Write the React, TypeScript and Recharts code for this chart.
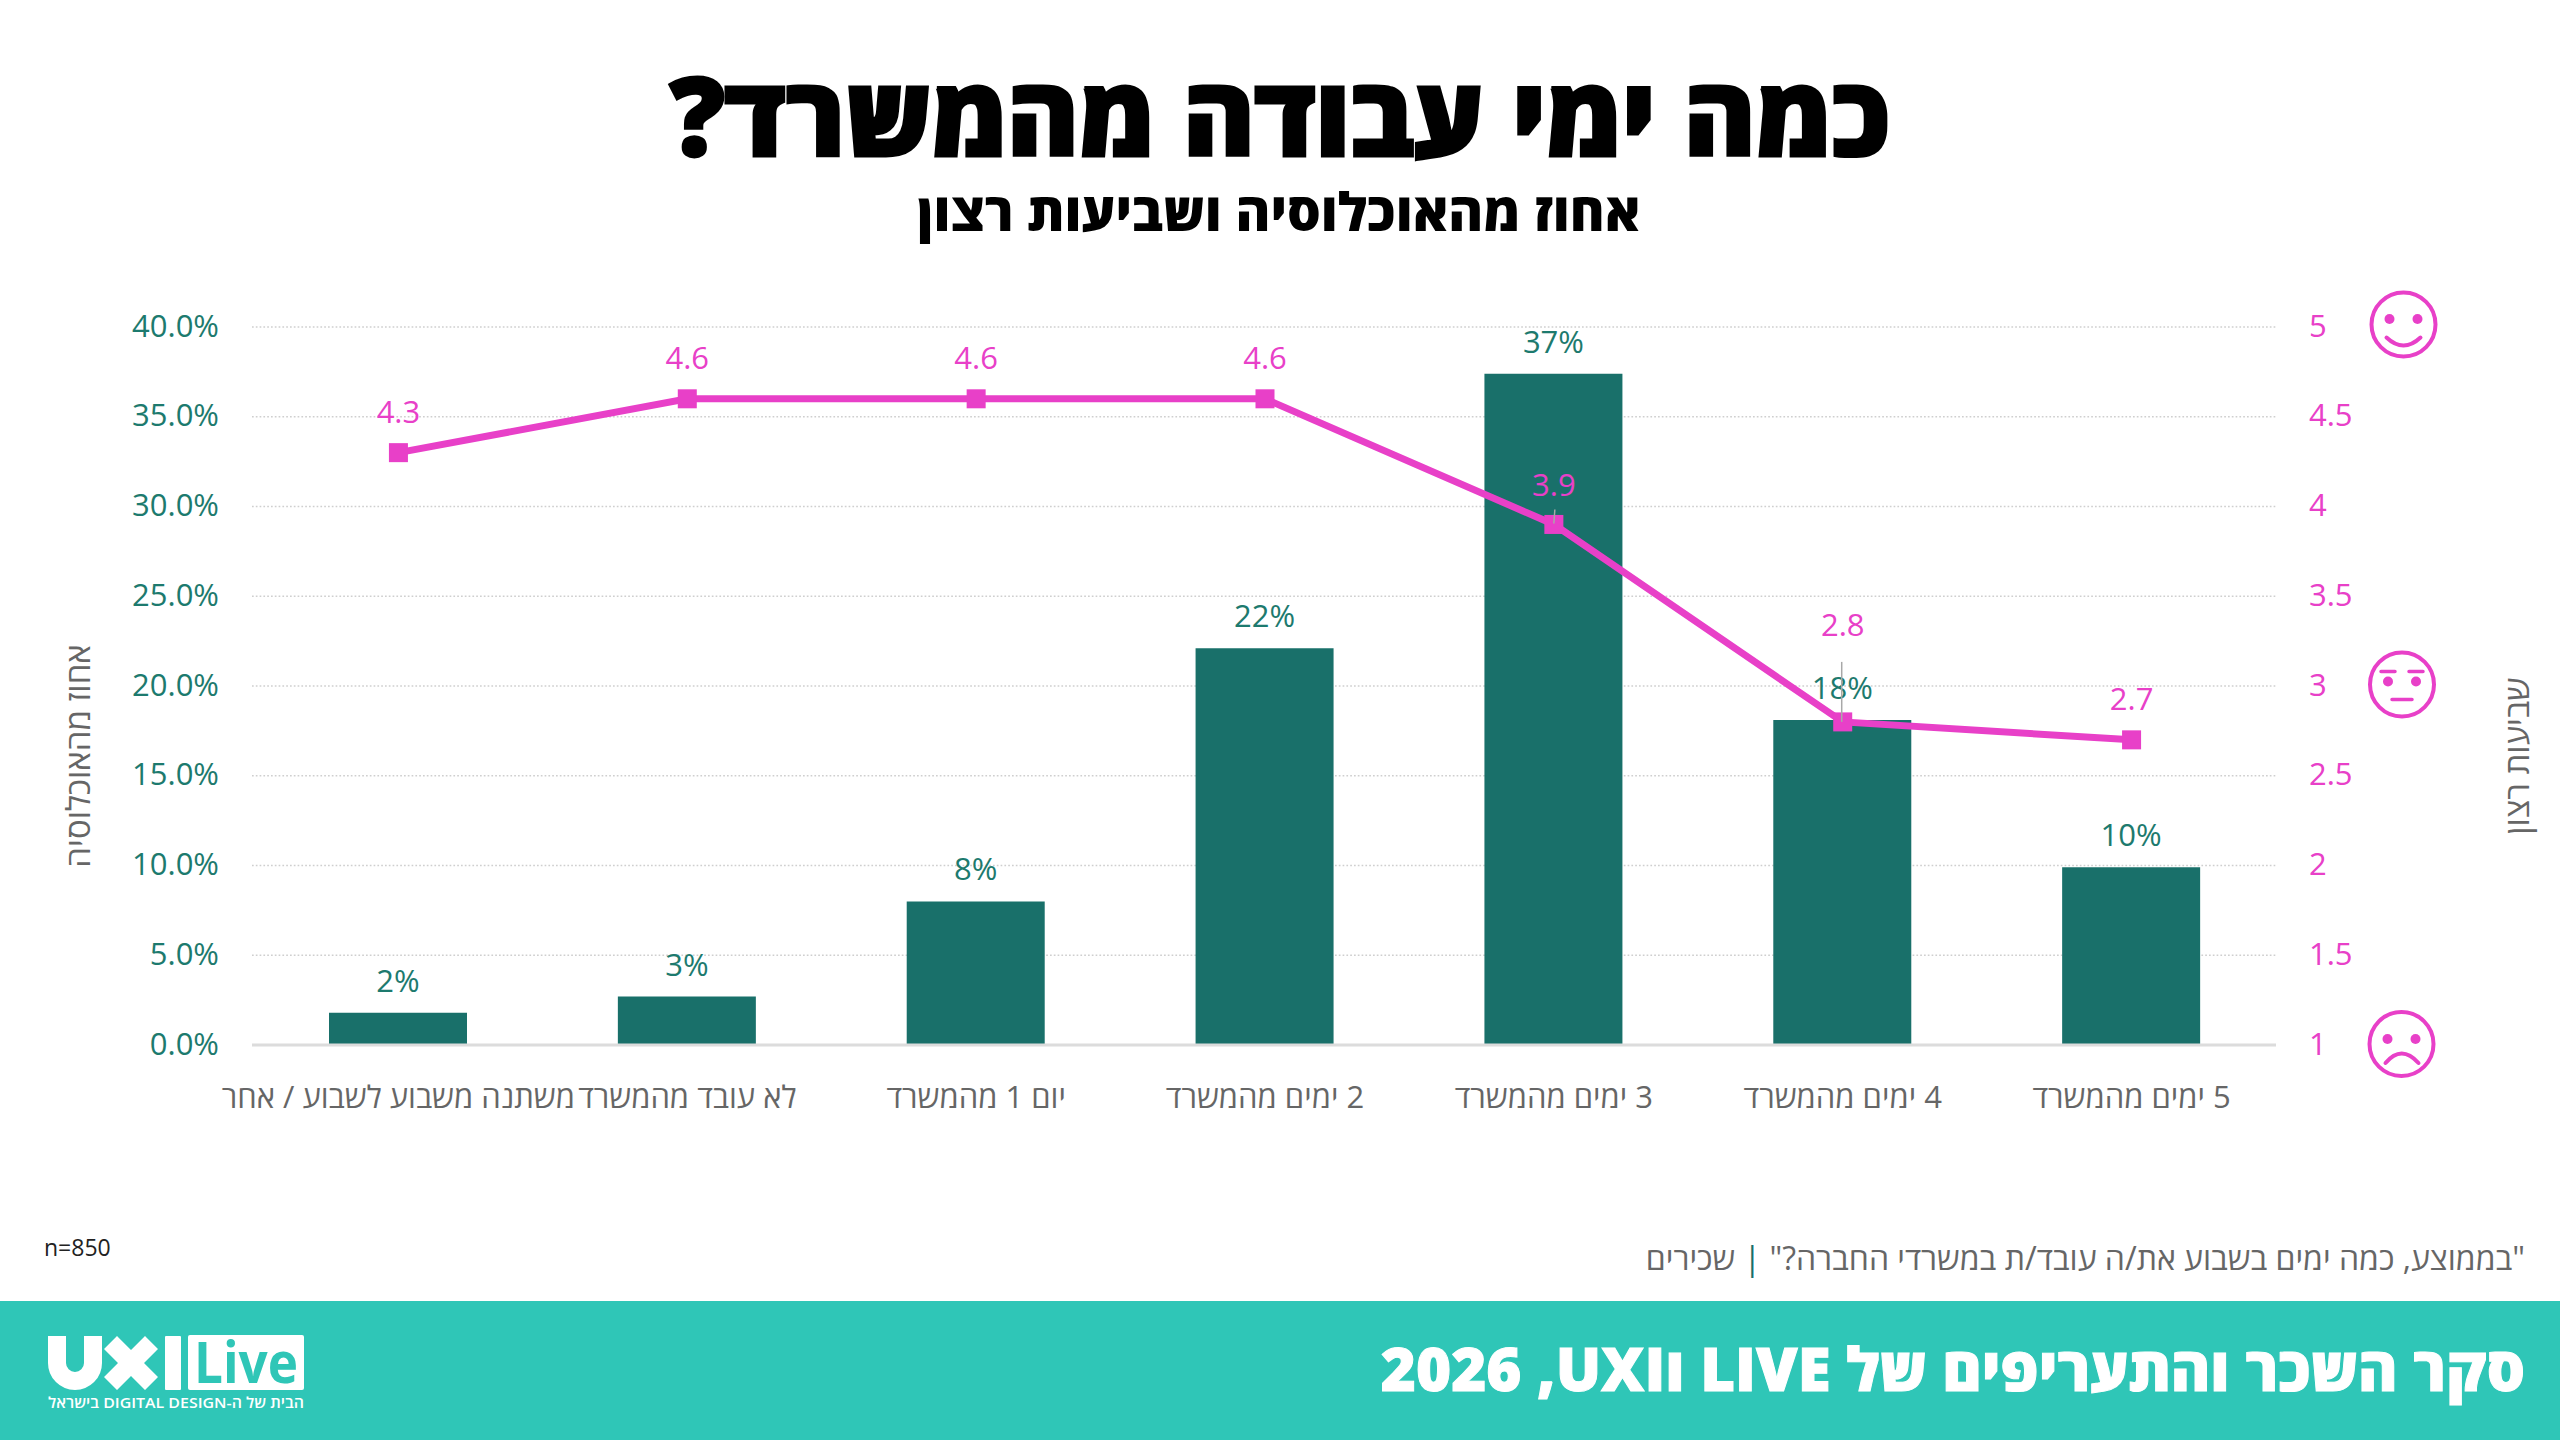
import { Bar, CartesianGrid, ComposedChart, LabelList, Line, Text, XAxis, YAxis } from "recharts";

const categories = [
  "משתנה משבוע לשבוע / אחר",
  "לא עובד מהמשרד",
  "יום 1 מהמשרד",
  "2 ימים מהמשרד",
  "3 ימים מהמשרד",
  "4 ימים מהמשרד",
  "5 ימים מהמשרד",
];
const populationShare = [1.8, 2.7, 8.0, 22.1, 37.4, 18.1, 9.9];
const satisfaction = [4.3, 4.6, 4.6, 4.6, 3.9, 2.8, 2.7];
const shareTicks = [0, 5, 10, 15, 20, 25, 30, 35, 40];
const satisfactionTicks = [1, 1.5, 2, 2.5, 3, 3.5, 4, 4.5, 5];

const chartData = categories.map((category, i) => ({
  category,
  share: populationShare[i],
  satisfaction: satisfaction[i],
}));

const TEAL = "#19706a";
const TEAL_TEXT = "#1d7a6e";
const PINK = "#e840c8";
const GREY = "#666666";
const BAND = "#2fc6b7";
const FONT = "'Open Sans', sans-serif";
const TITLE_FONT = "'Open Sans', 'Liberation Sans', sans-serif";

function CategoryTick({ x, y, payload }: any) {
  return (
    <Text
      x={x}
      y={y + 33}
      width={285}
      textAnchor="middle"
      verticalAnchor="start"
      lineHeight={46}
      fill={GREY}
      style={{ direction: "rtl", fontSize: 31, fontFamily: FONT }}
    >
      {payload.value}
    </Text>
  );
}

function SquareDot({ cx, cy, index }: any) {
  return <rect key={index} x={cx - 9.5} y={cy - 9.5} width={19} height={19} fill={PINK} />;
}

function SatisfactionLabel({ x, y, value, index }: any) {
  const long = index === 5;
  const short = index === 4;
  const lift = long ? 97 : short ? 39 : 41;
  return (
    <g>
      {long && <line x1={x - 1} x2={x - 1} y1={y - 60} y2={y} stroke="#a8a8a8" strokeWidth={1.5} />}
      {short && <line x1={x + 1} x2={x} y1={y - 15} y2={y - 1} stroke="#a8a8a8" strokeWidth={1.5} />}
      <text
        x={x}
        y={y - lift + 11}
        textAnchor="middle"
        fontSize={31}
        fontFamily={FONT}
        fill={PINK}
      >
        {value}
      </text>
    </g>
  );
}

function AxisTitle({ x, text }: { x: number; text: string }) {
  return (
    <text
      transform={`translate(${x} 756) rotate(-90)`}
      textAnchor="middle"
      dominantBaseline="central"
      fontSize={33}
      fontFamily={FONT}
      fill={GREY}
    >
      {text}
    </text>
  );
}

function Faces() {
  const face = { fill: "none", stroke: PINK, strokeWidth: 4, strokeLinecap: "round" as const };
  return (
    <g>
      <g transform="translate(2403.5 324.5)">
        <circle r={32} {...face} />
        <circle cx={-14} cy={-5.5} r={5} fill={PINK} />
        <circle cx={14} cy={-5.5} r={5} fill={PINK} />
        <path d="M-17 13 Q0 29 17 13" {...face} />
      </g>
      <g transform="translate(2402 684.5)">
        <circle r={32} {...face} />
        <circle cx={-14} cy={-3} r={5} fill={PINK} />
        <circle cx={14} cy={-3} r={5} fill={PINK} />
        <path d="M-21 -13 H-7 M7 -13 H21 M-10 15 H10" {...face} strokeWidth={3.5} />
      </g>
      <g transform="translate(2401.5 1044)">
        <circle r={32} {...face} />
        <circle cx={-14} cy={-5} r={5} fill={PINK} />
        <circle cx={14} cy={-5} r={5} fill={PINK} />
        <path d="M-16 19 Q0 0 17 19" {...face} />
      </g>
    </g>
  );
}

function Logo() {
  return (
    <g fill="#ffffff">
      <path d="M57 1336 V1363 A18 18 0 0 0 93 1363 V1336" fill="none" stroke="#ffffff" strokeWidth={18} />
      <path d="M104 1349 L117 1336 L131 1350 L145 1336 L158 1349 L144 1363 L158 1377 L145 1390 L131 1376 L117 1390 L104 1377 L118 1363 Z" />
      <rect x={165} y={1336} width={16} height={54} rx={1} />
      <rect x={188} y={1335} width={116} height={55} rx={2} />
      <text x={246} y={1383} textAnchor="middle" fontSize={58} fontWeight={700} fontFamily={FONT} fill={BAND} textLength={104} lengthAdjust="spacingAndGlyphs">
        Live
      </text>
      <text x={304} y={1408} textAnchor="start" fontSize={15} fontWeight={600} fontFamily={FONT} direction="rtl" textLength={256} lengthAdjust="spacingAndGlyphs">
        הבית של ה-DIGITAL DESIGN בישראל
      </text>
    </g>
  );
}

const abs = (style: React.CSSProperties): React.CSSProperties => ({
  position: "absolute",
  whiteSpace: "nowrap",
  margin: 0,
  ...style,
});

export default function App() {
  return (
    <div style={{ position: "absolute", left: 0, top: 0, width: 2560, height: 1440, background: "#fff", overflow: "hidden", fontFamily: FONT }}>
      <div dir="rtl" style={abs({ left: 0, width: 2560, top: 49, textAlign: "center", fontFamily: TITLE_FONT, fontSize: 109, fontWeight: 800, lineHeight: "130px", color: "#000", WebkitTextStroke: "3px #000" })}>
        כמה ימי עבודה מהמשרד?
      </div>
      <div dir="rtl" style={abs({ left: 0, width: 2558, top: 181, textAlign: "center", fontFamily: TITLE_FONT, fontSize: 53, fontWeight: 800, lineHeight: "60px", color: "#000" })}>
        אחוז מהאוכלוסיה ושביעות רצון
      </div>

      <ComposedChart
        width={2560}
        height={1440}
        data={chartData}
        margin={{ top: 327, right: 0, bottom: 295, left: 0 }}
        style={{ position: "absolute", left: 0, top: 0 }}
      >
        <CartesianGrid vertical={false} stroke="#cfcfcf" strokeWidth={1.7} strokeDasharray="1.7 2.1" yAxisId="share" />
        <XAxis
          dataKey="category"
          height={100}
          interval={0}
          padding={{ left: 2, right: 0 }}
          tickLine={false}
          axisLine={{ stroke: "#dcdcdc", strokeWidth: 3 }}
          tick={CategoryTick}
        />
        <YAxis
          yAxisId="share"
          orientation="left"
          width={252}
          domain={[0, 40]}
          ticks={shareTicks}
          tickFormatter={(v: number) => `${v.toFixed(1)}%`}
          axisLine={false}
          tickLine={false}
          tickMargin={33}
          tickSize={0}
          tick={{ fontSize: 31, fontFamily: FONT, fill: TEAL_TEXT, dy: -1.5 }}
          label={{ content: () => <AxisTitle x={77} text="אחוז מהאוכלוסיה" /> }}
        />
        <YAxis
          yAxisId="satisfaction"
          orientation="right"
          width={284}
          domain={[1, 5]}
          ticks={satisfactionTicks}
          axisLine={false}
          tickLine={false}
          tickMargin={33}
          tickSize={0}
          tick={{ fontSize: 31, fontFamily: FONT, fill: PINK, dy: -1.5 }}
          label={{ content: () => <AxisTitle x={2516} text="שביעות רצון" /> }}
        />
        <Bar yAxisId="share" dataKey="share" fill={TEAL} barSize={138} isAnimationActive={false}>
          <LabelList
            dataKey="share"
            position="top"
            offset={21}
            formatter={(v: number) => `${Math.round(v)}%`}
            style={{ fontSize: 31, fontFamily: FONT, fill: TEAL_TEXT }}
          />
        </Bar>
        <Line
          yAxisId="satisfaction"
          dataKey="satisfaction"
          type="linear"
          stroke={PINK}
          strokeWidth={7}
          dot={SquareDot}
          activeDot={false}
          isAnimationActive={false}
        >
          <LabelList dataKey="satisfaction" content={SatisfactionLabel} />
        </Line>
      </ComposedChart>

      <div style={abs({ left: 44, top: 1233, fontSize: 23, lineHeight: "28px", color: "#222" })}>n=850</div>
      <div dir="rtl" style={abs({ right: 35, top: 1238, fontSize: 32, lineHeight: "40px", color: GREY })}>
        "בממוצע, כמה ימים בשבוע את/ה עובד/ת במשרדי החברה?" <span style={{ color: TEAL }}>|</span> שכירים
      </div>

      <div style={abs({ left: 0, top: 1301, width: 2560, height: 139, background: BAND })} />
      <div dir="rtl" style={abs({ right: 35, top: 1330, fontFamily: TITLE_FONT, fontSize: 60, fontWeight: 800, lineHeight: "76px", color: "#fff", WebkitTextStroke: "1px #fff" })}>
        {"סקר השכר והתעריפים של LIVE וUXI,\u200F 2026"}
      </div>

      <svg width={2560} height={1440} style={{ position: "absolute", left: 0, top: 0, pointerEvents: "none" }}>
        <Faces />
        <Logo />
      </svg>
    </div>
  );
}
